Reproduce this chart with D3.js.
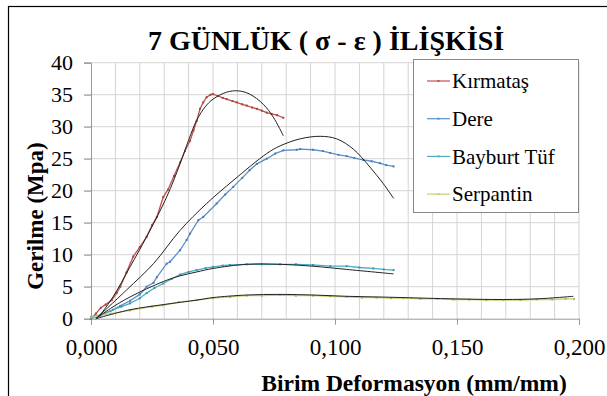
<!DOCTYPE html>
<meta charset="utf-8">
<html>
<head>
  <title>7 Günlük Gerilme - Deformasyon</title>
  <style>
    body { margin: 0; background: #fff; }
    svg { width: 607px; height: 396px; display: block; }
    text { font-family: 'Liberation Serif', 'Times New Roman', serif; fill: #000; }
    .grid line { stroke: #d4d4d4; stroke-width: 1px; }
    .data { fill: none; stroke-width: 1.3px; }
    .fit { fill: none; stroke: #222; stroke-width: 1px; }
  </style>
  <script src="https://d3js.org/d3.v7.min.js"></script>
</head>
<body>
  <svg></svg>
  <script>
    var SERIF = "'Liberation Serif', 'Times New Roman', serif";

    // tick labels and categories
    var xTicks = [0, 0.05, 0.10, 0.15, 0.20];
    var yTicks = [0, 5, 10, 15, 20, 25, 30, 35, 40];
    var seriesNames = ["Kırmataş", "Dere", "Bayburt Tüf", "Serpantin"];
    var seriesColors = ["#c0504d", "#5b8fcc", "#4bacc6", "#c8cf72"];

    // measured points [strain, stress]
    var kirmatasData = [[0,0],[0.002,0.8],[0.004,1.7],[0.006,2.2],[0.0085,2.9],[0.0105,4.0],[0.012,5.0],[0.0145,7.2],[0.0173,9.7],[0.020,11.2],[0.0228,12.8],[0.025,14.6],[0.027,15.9],[0.0296,19.0],[0.0316,20.2],[0.034,22.3],[0.0365,24.4],[0.0385,26.2],[0.0406,27.8],[0.042,29.4],[0.0433,30.9],[0.0447,32.8],[0.046,33.8],[0.0474,34.6],[0.049,35.0],[0.050,35.1],[0.052,34.8],[0.054,34.5],[0.0556,34.3],[0.058,34.0],[0.0597,33.8],[0.062,33.5],[0.0638,33.3],[0.066,33.0],[0.068,32.8],[0.070,32.5],[0.072,32.2],[0.074,32.0],[0.0762,31.8],[0.0788,31.4]];
    var dereData = [[0,0],[0.004,0.5],[0.008,1.2],[0.012,2.0],[0.016,2.8],[0.020,3.8],[0.0228,5.0],[0.0256,5.6],[0.027,6.5],[0.031,8.6],[0.0324,8.9],[0.0365,10.7],[0.0392,12.3],[0.0406,13.3],[0.044,15.4],[0.046,15.9],[0.0515,18.0],[0.055,19.4],[0.0583,20.6],[0.062,22.0],[0.065,23.2],[0.068,24.2],[0.072,25.0],[0.0755,25.8],[0.0788,26.3],[0.0843,26.4],[0.0857,26.5],[0.091,26.4],[0.095,26.2],[0.098,25.9],[0.1015,25.6],[0.1048,25.4],[0.108,25.1],[0.1116,24.8],[0.115,24.6],[0.1184,24.3],[0.121,24.0],[0.124,23.8]];
    var bayburtData = [[0,0.3],[0.004,0.6],[0.009,1.4],[0.0125,1.9],[0.016,2.4],[0.020,3.2],[0.0228,4.0],[0.026,4.8],[0.0296,5.5],[0.033,6.2],[0.0365,6.9],[0.040,7.3],[0.0433,7.6],[0.047,7.9],[0.050,8.1],[0.054,8.3],[0.057,8.4],[0.0638,8.5],[0.070,8.5],[0.0775,8.5],[0.084,8.5],[0.091,8.4],[0.098,8.2],[0.1048,8.2],[0.110,8.0],[0.1157,7.85],[0.120,7.7],[0.124,7.6]];
    var serpantinData = [[0,0.2],[0.008,0.8],[0.016,1.3],[0.025,1.9],[0.0296,2.1],[0.036,2.6],[0.0433,2.9],[0.050,3.2],[0.057,3.4],[0.0638,3.6],[0.070,3.6],[0.0775,3.7],[0.084,3.6],[0.091,3.6],[0.098,3.5],[0.1048,3.4],[0.111,3.3],[0.117,3.3],[0.123,3.2],[0.128,3.2],[0.135,3.1],[0.142,3.1],[0.1485,3.0],[0.155,3.0],[0.162,2.9],[0.169,2.9],[0.176,2.9],[0.1827,3.0],[0.189,3.0],[0.1945,3.1],[0.198,3.1]];

    // polynomial trend lines
    var kirmatasFit = [[0.002,0],[0.0037,0.6],[0.009,3.4],[0.016,8.1],[0.0228,12.8],[0.031,19.0],[0.0365,24.2],[0.040,27.9],[0.0433,31.0],[0.047,33.2],[0.050,34.3],[0.0556,35.4],[0.0604,35.6],[0.065,35.1],[0.0706,33.5],[0.0747,31.5],[0.0788,28.6]];
    var dereFit = [[0.002,0],[0.0146,4.5],[0.0256,8.6],[0.0365,13.8],[0.0474,18.0],[0.0583,21.6],[0.072,25.8],[0.0775,27.0],[0.0857,28.1],[0.0939,28.5],[0.1007,28.1],[0.1075,26.5],[0.1143,23.7],[0.1198,21.1],[0.124,18.8]];
    var bayburtFit = [[0.002,0],[0.008,1.6],[0.016,3.4],[0.0296,5.8],[0.0365,6.7],[0.0433,7.3],[0.050,7.85],[0.0638,8.5],[0.0775,8.5],[0.091,8.2],[0.1048,7.7],[0.124,7.0]];
    var serpantinFit = [[0.002,0],[0.016,1.4],[0.0296,2.2],[0.0433,2.9],[0.050,3.3],[0.0638,3.7],[0.0775,3.8],[0.091,3.7],[0.1048,3.5],[0.117,3.4],[0.128,3.3],[0.1485,3.1],[0.169,3.0],[0.1827,3.1],[0.191,3.3],[0.1977,3.5]];

    var dataSets = [kirmatasData, dereData, bayburtData, serpantinData];
    var fitSets = [kirmatasFit, dereFit, bayburtFit, serpantinFit];

    var svg = d3.select("svg");
    var margin = {top: 62.7, right: 28, bottom: 77.3, left: 91};
    var width = 607 - margin.left - margin.right;
    var height = 396 - margin.top - margin.bottom;

    var x = d3.scaleLinear().domain([0, 0.2]).range([0, width]);
    var y = d3.scaleLinear().domain([0, 40]).range([height, 0]);

    // chart border (right and bottom fall outside the picture)
    svg.append("rect")
      .attr("x", 8.5).attr("y", 6.5)
      .attr("width", 640).attr("height", 420)
      .attr("fill", "none").attr("stroke", "#000").attr("stroke-width", 1.2);

    svg.append("text")
      .attr("x", 326).attr("y", 50)
      .attr("text-anchor", "middle")
      .style("font-family", SERIF)
      .style("font-size", "28px").style("font-weight", "bold")
      .text("7 GÜNLÜK ( σ - ε ) İLİŞKİSİ");

    var g = svg.append("g")
      .attr("transform", "translate(" + margin.left + "," + margin.top + ")");

    // grid
    var grid = g.append("g").attr("class", "grid");
    grid.selectAll(".vx").data(d3.range(1, 21).map(function(i) { return i / 100; }))
      .enter().append("line")
      .attr("x1", function(d) { return x(d); }).attr("x2", function(d) { return x(d); })
      .attr("y1", 0).attr("y2", height);
    grid.selectAll(".hy").data(yTicks.slice(1))
      .enter().append("line")
      .attr("x1", -7).attr("x2", width)
      .attr("y1", function(d) { return y(d); }).attr("y2", function(d) { return y(d); });

    // axes
    var xAxis = g.append("g")
      .attr("transform", "translate(0," + height + ")")
      .call(d3.axisBottom(x).tickValues(xTicks).tickSize(6).tickPadding(10)
        .tickFormat(function(d) { return d3.format(".3f")(d).replace(".", ","); }));
    xAxis.attr("font-family", null);
    xAxis.select(".domain").attr("stroke", "#999");
    xAxis.selectAll(".tick line").attr("stroke", "#999");
    xAxis.selectAll("text").style("font-family", SERIF).style("font-size", "23px").attr("dy", "0.9em");

    var yAxis = g.append("g")
      .call(d3.axisLeft(y).tickValues(yTicks).tickSize(7).tickPadding(11));
    yAxis.attr("font-family", null);
    yAxis.select(".domain").attr("stroke", "#999");
    yAxis.selectAll(".tick line").attr("stroke", "#999");
    yAxis.selectAll("text").style("font-family", SERIF).style("font-size", "22px");

    // axis titles
    svg.append("text")
      .attr("x", 414).attr("y", 391)
      .attr("text-anchor", "middle")
      .style("font-family", SERIF)
      .style("font-size", "23.5px").style("font-weight", "bold")
      .text("Birim Deformasyon (mm/mm)");
    svg.append("text")
      .attr("transform", "translate(43,216) rotate(-90)")
      .attr("text-anchor", "middle")
      .style("font-family", SERIF)
      .style("font-size", "23px").style("font-weight", "bold")
      .text("Gerilme (Mpa)");

    var line = d3.line()
      .x(function(d) { return x(d[0]); })
      .y(function(d) { return y(d[1]); });
    var smooth = d3.line()
      .curve(d3.curveCatmullRom)
      .x(function(d) { return x(d[0]); })
      .y(function(d) { return y(d[1]); });

    // measured series with small markers
    dataSets.forEach(function(data, i) {
      g.append("path").attr("class", "data")
        .attr("d", line(data))
        .style("stroke", seriesColors[i]);
      g.selectAll(".m" + i).data(data)
        .enter().append("rect")
        .attr("x", function(d) { return x(d[0]) - 1; })
        .attr("y", function(d) { return y(d[1]) - 1; })
        .attr("width", 2).attr("height", 2)
        .attr("fill", d3.color(seriesColors[i]).darker(0.4));
    });

    // trend lines
    fitSets.forEach(function(fit) {
      g.append("path").attr("class", "fit").attr("d", smooth(fit));
    });

    // legend
    var legend = svg.append("g");
    legend.append("rect")
      .attr("x", 413.5).attr("y", 59.5).attr("width", 165).attr("height", 153)
      .attr("fill", "#fff").attr("stroke", "#888");
    var item = legend.selectAll(".item").data(seriesNames)
      .enter().append("g")
      .attr("transform", function(d, i) { return "translate(427," + (81 + i * 37.7) + ")"; });
    item.append("line")
      .attr("x1", 0).attr("x2", 23)
      .style("stroke", function(d, i) { return seriesColors[i]; })
      .style("stroke-width", 1.2);
    item.append("rect")
      .attr("x", 10.5).attr("y", -1).attr("width", 2).attr("height", 2)
      .attr("fill", function(d, i) { return seriesColors[i]; });
    item.append("text")
      .attr("x", 25).attr("dy", "0.35em")
      .style("font-family", SERIF)
      .style("font-size", "21px")
      .text(function(d) { return d; });
  </script>
</body>
</html>
